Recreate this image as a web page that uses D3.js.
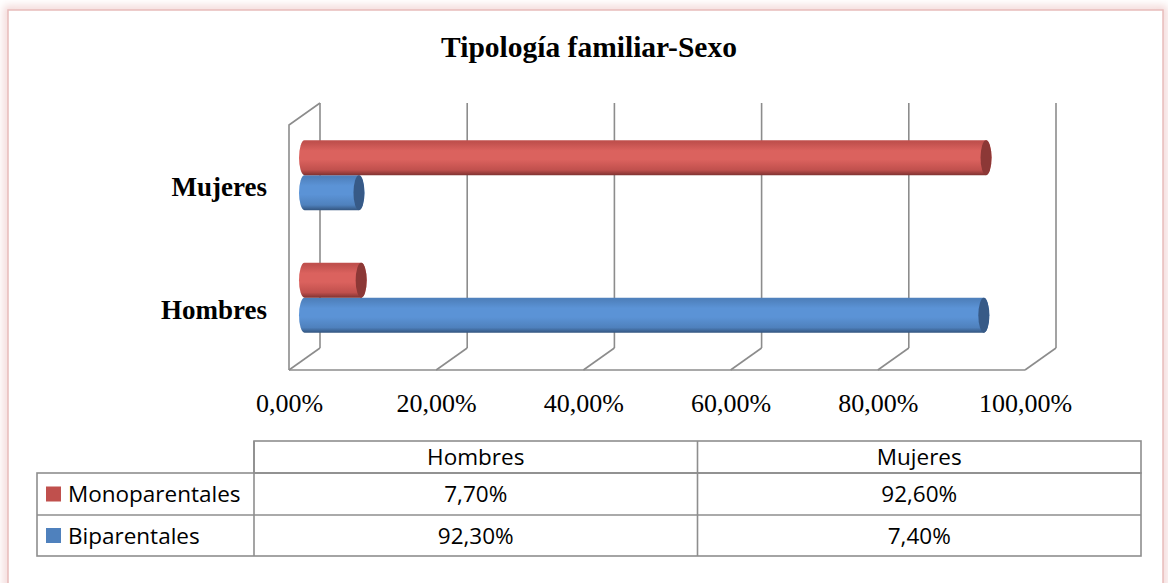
<!DOCTYPE html>
<html>
<head>
<meta charset="utf-8">
<script src="https://cdn.jsdelivr.net/npm/d3@7"></script>
<style>
  body { margin: 0; background: #fff; }
  svg { display: block; }
</style>
</head>
<body>
<svg id="chart" width="1168" height="583"></svg>
<script>
'use strict';

/* Data */
const categories = ['Mujeres', 'Hombres'];            // top to bottom
const seriesNames = ['Monoparentales', 'Biparentales'];
const monoparentales = [92.6, 7.7];                   // per category above
const biparentales = [7.4, 92.3];
const tableCols = ['Hombres', 'Mujeres'];
const tickValues = [0, 20, 40, 60, 80, 100];
const title = 'Tipología familiar-Sexo';

const colors = {
    Monoparentales: { light: '#db625e', base: '#c0504d', dark: '#7f3231', cap: '#8c3836' },
    Biparentales:   { light: '#5b93d6', base: '#4f81bd', dark: '#33557f', cap: '#375a87' }
};

const svg = d3.select('#chart');
const defs = svg.append('defs');

/* frame with pink glow */
const glow = defs.append('filter').attr('id', 'glow')
    .attr('x', '-5%').attr('y', '-5%').attr('width', '110%').attr('height', '110%');
glow.append('feGaussianBlur').attr('stdDeviation', 4);
svg.append('rect').attr('x', 8).attr('y', 10).attr('width', 1155).attr('height', 600)
    .attr('fill', 'none').attr('stroke', '#f2d4d3').attr('stroke-width', 8)
    .attr('filter', 'url(#glow)');
svg.append('rect').attr('x', 8).attr('y', 10).attr('width', 1155).attr('height', 600)
    .attr('fill', '#fff').attr('stroke', '#e8bcbb').attr('stroke-width', 1.5);

/* title */
svg.append('text')
    .attr('x', 589).attr('y', 57)
    .attr('text-anchor', 'middle')
    .style('font-family', '"Liberation Serif", "Times New Roman", serif')
    .style('font-weight', 'bold')
    .style('font-size', '29.5px')
    .text(title);

/* 3D geometry */
const depth = { dx: 31, dy: -22 };
const front = { x0: 289, top: 125, bottom: 370 };
const W = 736;

const xFront = d3.scaleLinear().domain([0, 100]).range([front.x0, front.x0 + W]);
const xBack = d3.scaleLinear().domain([0, 100]).range([front.x0 + depth.dx, front.x0 + depth.dx + W]);
const xMid = d3.scaleLinear().domain([0, 100]).range([front.x0 + depth.dx / 2, front.x0 + depth.dx / 2 + W]);

const yFront = d3.scaleBand().domain(categories).range([front.top, front.bottom]);
const yMid = d3.scaleBand().domain(categories)
    .range([front.top + depth.dy / 2, front.bottom + depth.dy / 2]);
const ySeries = d3.scaleBand().domain(seriesNames)
    .range([0, yMid.bandwidth()]).paddingOuter(0.75).paddingInner(0);

const gridColor = '#8c8c8c';
const grid = svg.append('g')
    .attr('fill', 'none').attr('stroke', gridColor).attr('stroke-width', 1.6);

const backTop = front.top + depth.dy, backBottom = front.bottom + depth.dy;

// back wall verticals
grid.selectAll('line.back').data(tickValues).join('line').attr('class', 'back')
    .attr('x1', d => xBack(d)).attr('x2', d => xBack(d))
    .attr('y1', backTop).attr('y2', backBottom);
// floor diagonals
grid.selectAll('line.floor').data(tickValues).join('line').attr('class', 'floor')
    .attr('x1', d => xBack(d)).attr('y1', backBottom)
    .attr('x2', d => xFront(d)).attr('y2', front.bottom);
// floor front edge
grid.append('line')
    .attr('x1', xFront(0)).attr('x2', xFront(100))
    .attr('y1', front.bottom).attr('y2', front.bottom);
// left wall
grid.append('path')
    .attr('d', d3.line()([[xBack(0), backTop], [xFront(0), front.top], [xFront(0), front.bottom]]));

/* axis labels */
const axis = d3.axisBottom(xFront)
    .tickValues(tickValues).tickSize(0).tickPadding(0)
    .tickFormat(d => d.toFixed(2).replace('.', ',') + '%');
const axisG = svg.append('g').attr('transform', `translate(0, ${front.bottom})`).call(axis);
axisG.select('.domain').remove();
axisG.selectAll('text')
    .attr('y', 42).attr('dy', null)
    .style('font-family', '"Liberation Serif", "Times New Roman", serif')
    .style('font-size', '26px')
    .attr('fill', '#000');

/* category labels */
svg.selectAll('text.cat').data(categories).join('text').attr('class', 'cat')
    .attr('x', 267)
    .attr('y', d => yFront(d) + yFront.bandwidth() / 2 + 10)
    .attr('text-anchor', 'end')
    .style('font-family', '"Liberation Serif", "Times New Roman", serif')
    .style('font-weight', 'bold')
    .style('font-size', '27px')
    .text(d => d);

/* gradients */
seriesNames.forEach(s => {
    const c = colors[s];
    const g = defs.append('linearGradient').attr('id', 'grad-' + s)
        .attr('x1', 0).attr('y1', 0).attr('x2', 0).attr('y2', 1);
    [[0, c.base], [0.06, c.base], [0.3, c.light], [0.55, c.light], [0.85, c.base], [1, c.dark]]
        .forEach(([o, col]) => g.append('stop').attr('offset', o).attr('stop-color', col));
});

/* cylinders */
const bars = [];
categories.forEach((cat, i) => {
    bars.push({ cat, series: 'Biparentales', value: biparentales[i] });
    bars.push({ cat, series: 'Monoparentales', value: monoparentales[i] });
});

const rx = 5.5;
const barG = svg.append('g');
const cyl = barG.selectAll('g.bar').data(bars).join('g').attr('class', 'bar');

cyl.append('path')
    .attr('fill', d => `url(#grad-${d.series})`)
    .attr('d', d => {
        const y0 = yMid(d.cat) + ySeries(d.series);
        const h = ySeries.bandwidth();
        const x0 = xMid(0), x1 = xMid(d.value);
        const ry = h / 2;
        return `M${x0},${y0} L${x1},${y0} A${rx},${ry} 0 0 1 ${x1},${y0 + h} ` +
            `L${x0},${y0 + h} A${rx},${ry} 0 0 1 ${x0},${y0} Z`;
    });
cyl.append('ellipse')
    .attr('cx', d => xMid(d.value))
    .attr('cy', d => yMid(d.cat) + ySeries(d.series) + ySeries.bandwidth() / 2)
    .attr('rx', rx)
    .attr('ry', ySeries.bandwidth() / 2)
    .attr('fill', d => colors[d.series].cap);

/* data table */
const table = {
    left: 37, keyRight: 254, right: 1141,
    rows: [441, 473, 515, 556]
};
const colX = d3.scaleBand().domain(tableCols).range([table.keyRight, table.right]);
const tableFont = '"Open Sans", "Noto Sans", "Liberation Sans", sans-serif';
const tg = svg.append('g').attr('stroke', '#8e8e8e').attr('stroke-width', 1.6).attr('fill', 'none');

tg.append('rect').attr('x', table.keyRight).attr('y', table.rows[0])
    .attr('width', table.right - table.keyRight).attr('height', table.rows[1] - table.rows[0]);
tg.append('rect').attr('x', table.left).attr('y', table.rows[1])
    .attr('width', table.right - table.left).attr('height', table.rows[3] - table.rows[1]);
tg.append('line').attr('x1', table.left).attr('x2', table.right)
    .attr('y1', table.rows[2]).attr('y2', table.rows[2]);
tg.append('line').attr('x1', table.keyRight).attr('x2', table.keyRight)
    .attr('y1', table.rows[0]).attr('y2', table.rows[3]);
tg.append('line').attr('x1', colX('Mujeres')).attr('x2', colX('Mujeres'))
    .attr('y1', table.rows[0]).attr('y2', table.rows[3]);

const fmt = v => v.toFixed(2).replace('.', ',') + '%';
const tt = svg.append('g')
    .style('font-family', tableFont).style('font-size', '22.5px').attr('fill', '#000');

tt.selectAll('text.head').data(tableCols).join('text').attr('class', 'head')
    .attr('x', d => colX(d) + colX.bandwidth() / 2).attr('y', 465)
    .attr('text-anchor', 'middle').text(d => d);

const tableRows = [
    { name: 'Monoparentales', values: tableCols.map(c => monoparentales[categories.indexOf(c)]) },
    { name: 'Biparentales', values: tableCols.map(c => biparentales[categories.indexOf(c)]) }
];
tableRows.forEach((r, i) => {
    const yBase = table.rows[i + 1];
    const h = table.rows[i + 2] - yBase;
    svg.append('rect').attr('x', 46).attr('y', yBase + h / 2 - 7.5)
        .attr('width', 15).attr('height', 15).attr('fill', colors[r.name].base);
    tt.append('text').attr('x', 68).attr('y', yBase + h / 2 + 8).text(r.name);
    r.values.forEach((v, j) => {
        tt.append('text')
            .attr('x', colX(tableCols[j]) + colX.bandwidth() / 2)
            .attr('y', yBase + h / 2 + 8)
            .attr('text-anchor', 'middle')
            .text(fmt(v));
    });
});
</script>
</body>
</html>
